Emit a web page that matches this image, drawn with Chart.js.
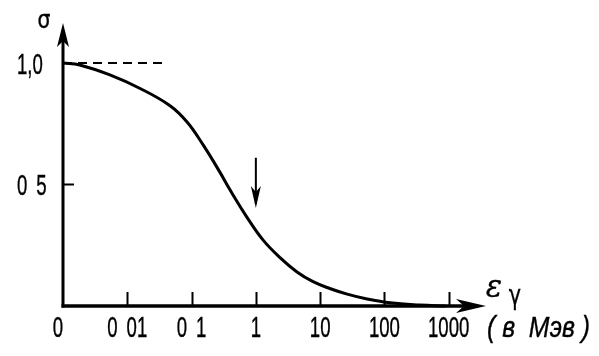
<!DOCTYPE html>
<html>
<head>
<meta charset="utf-8">
<script src="https://cdn.jsdelivr.net/npm/chart.js@4/dist/chart.umd.min.js"></script>
<style>
html,body{margin:0;padding:0;background:#fff;}
canvas{display:block;}
</style>
</head>
<body>
<canvas id="c" width="599" height="356"></canvas>
<script>
// x positions are in decades along the axis: 0 = origin, 1 = 0.01 MeV, 2 = 0.1, 3 = 1, 4 = 10, 5 = 100, 6 = 1000
const xTickValues = [0, 1, 2, 3, 4, 5, 6];
const xTickLabels = ['0', '0 01', '0 1', '1', '10', '100', '1000'];
const yTickValues = [0.5, 1.0];
const yTickLabels = ['0 5', '1,0'];
const curveX = [0, 0.26, 0.73, 1.2, 1.66, 1.93, 2.18, 2.44, 2.6, 2.86, 3.11, 3.38, 3.64, 3.89, 4.15, 4.42, 4.73, 5.09, 5.55, 5.95];
const curveY = [1.0, 0.992, 0.951, 0.895, 0.825, 0.757, 0.663, 0.551, 0.477, 0.366, 0.272, 0.198, 0.140, 0.100, 0.072, 0.049, 0.029, 0.013, 0.004, 0.0];
const dashX = [0, 1.54];
const dashY = [1.0, 1.0];
const markerX = [3, 3];
const markerY = [0.61, 0.42];
const markerTip = 0.403;
const xAxisEnd = 6.58;
const yAxisEnd = 1.165;
const yAxisLabel = 'σ';
const xAxisLabel = 'ε';
const xAxisSub = 'γ';
const unitLabel = '( в  Мэв )';

function pts(xs, ys){ return xs.map((x,i)=>({x:x, y:ys[i]})); }

function condText(ctx, text, x, y, font, sx, align, heavy, ws){
  ctx.save();
  ctx.font = font;
  if (ws) ctx.wordSpacing = ws;
  const w = ctx.measureText(text).width * sx;
  let left = x;
  if (align === 'center') left = x - w/2;
  else if (align === 'right') left = x - w;
  ctx.translate(left, y);
  ctx.scale(sx, 1);
  ctx.textAlign = 'left';
  ctx.textBaseline = 'alphabetic';
  ctx.fillText(text, 0, 0);
  if (heavy) { ctx.lineWidth = heavy; ctx.strokeText(text, 0, 0); }
  ctx.restore();
}

function fitText(ctx, text, x, y, font, width, heavy){
  ctx.save();
  ctx.font = font;
  const w = ctx.measureText(text).width;
  ctx.translate(x, y);
  ctx.scale(width / w, 1);
  ctx.textAlign = 'left';
  ctx.textBaseline = 'alphabetic';
  ctx.fillText(text, 0, 0);
  if (heavy) { ctx.lineWidth = heavy; ctx.strokeText(text, 0, 0); }
  ctx.restore();
}

const axesPlugin = {
  id: 'axesPlugin',
  afterDatasetsDraw(chart){
    const ctx = chart.ctx;
    const xs = chart.scales.x, ys = chart.scales.y;
    const x0 = xs.getPixelForValue(0);
    const y0 = ys.getPixelForValue(0);
    ctx.save();
    ctx.strokeStyle = '#000';
    ctx.fillStyle = '#000';
    ctx.lineCap = 'butt';
    // y axis
    const yTip = ys.getPixelForValue(yAxisEnd);
    ctx.lineWidth = 3;
    ctx.beginPath();
    ctx.moveTo(x0, y0 + 1.5);
    ctx.lineTo(x0, yTip + 10);
    ctx.stroke();
    ctx.beginPath();
    ctx.moveTo(x0, yTip);
    ctx.lineTo(x0 + 6, yTip + 24);
    ctx.lineTo(x0, yTip + 18);
    ctx.lineTo(x0 - 6, yTip + 24);
    ctx.closePath();
    ctx.fill();
    // x axis
    const xTip = xs.getPixelForValue(xAxisEnd);
    ctx.lineWidth = 3.5;
    ctx.beginPath();
    ctx.moveTo(x0 - 1.5, y0);
    ctx.lineTo(xTip - 10, y0);
    ctx.stroke();
    ctx.beginPath();
    ctx.moveTo(xTip, y0);
    ctx.lineTo(xTip - 30, y0 - 7);
    ctx.lineTo(xTip - 22, y0);
    ctx.lineTo(xTip - 30, y0 + 7);
    ctx.closePath();
    ctx.fill();
    // x ticks
    ctx.lineWidth = 2;
    xTickValues.forEach(v => {
      if (v === 0) return;
      const px = Math.round(xs.getPixelForValue(v)) + 0.5;
      ctx.beginPath();
      ctx.moveTo(px, y0);
      ctx.lineTo(px, y0 - 14);
      ctx.stroke();
    });
    // y tick at 0.5
    const py5 = ys.getPixelForValue(0.5);
    ctx.beginPath();
    ctx.moveTo(x0, py5);
    ctx.lineTo(x0 + 11, py5);
    ctx.stroke();
    // marker arrowhead
    const mx = xs.getPixelForValue(markerX[0]);
    const mTip = ys.getPixelForValue(markerTip);
    ctx.beginPath();
    ctx.moveTo(mx, mTip);
    ctx.lineTo(mx + 5, mTip - 22);
    ctx.lineTo(mx, mTip - 16);
    ctx.lineTo(mx - 5, mTip - 22);
    ctx.closePath();
    ctx.fill();
    // labels
    const numFont = '30px "Liberation Sans", Arial, sans-serif';
    xTickValues.forEach((v, i) => {
      let px = xs.getPixelForValue(v);
      if (v === 0) px -= 5;
      condText(ctx, xTickLabels[i], px, y0 + 31, numFont, 0.62, 'center', 0.4, '6px');
    });
    yTickValues.forEach((v, i) => {
      const py = ys.getPixelForValue(v);
      condText(ctx, yTickLabels[i], 17, py + 10.5, numFont, 0.62, 'left', 0.4, '6px');
    });
    condText(ctx, yAxisLabel, 44, 28, '24px "DejaVu Sans", sans-serif', 0.85, 'center', 0.4);
    condText(ctx, xAxisLabel, 494, 297, 'italic 32px "DejaVu Serif", serif', 0.95, 'center', 0.3);
    condText(ctx, xAxisSub, 515, 304, '26px "DejaVu Sans", sans-serif', 0.8, 'center', 0.3);
    fitText(ctx, unitLabel, 487, y0 + 31, 'italic 30px "Liberation Sans", Arial, sans-serif', 103, 0.4);
    ctx.restore();
  }
};

new Chart(document.getElementById('c'), {
  type: 'line',
  data: {
    datasets: [
      { data: pts(curveX, curveY), borderColor: '#000', borderWidth: 3, pointRadius: 0, tension: 0.4, fill: false, clip: false },
      { data: pts(dashX, dashY), borderColor: '#000', borderWidth: 2, borderDash: [9, 6], pointRadius: 0, fill: false, clip: false },
      { data: pts(markerX, markerY), borderColor: '#000', borderWidth: 2, pointRadius: 0, fill: false, clip: false }
    ]
  },
  options: {
    responsive: false,
    animation: false,
    events: [],
    layout: { padding: { left: 63, right: 86, top: 14.4, bottom: 50 } },
    plugins: { legend: { display: false }, tooltip: { enabled: false } },
    scales: {
      x: { type: 'linear', min: 0, max: 7, display: false },
      y: { type: 'linear', min: 0, max: 1.2, display: false }
    }
  },
  plugins: [axesPlugin]
});
</script>
</body>
</html>
